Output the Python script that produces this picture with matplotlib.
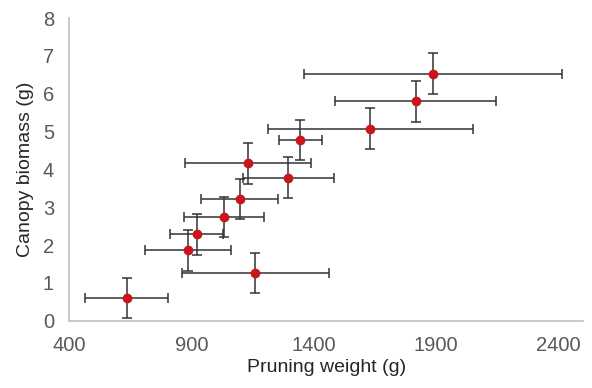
import numpy as np
import matplotlib.pyplot as plt

plt.rcParams['font.family'] = ['Liberation Sans', 'DejaVu Sans']

# pruning weight (g) and canopy biomass (g), with error bars
pruning_weight = [634, 885, 920, 1032, 1097, 1129, 1295, 1160, 1345, 1631, 1816, 1886]
pruning_err    = [169, 174, 107, 163, 157, 257, 187, 301, 88, 418, 330, 527]
canopy_biomass = [0.61, 1.86, 2.28, 2.74, 3.21, 4.16, 3.78, 1.26, 4.78, 5.08, 5.80, 6.53]
biomass_err    = [0.53, 0.54, 0.54, 0.54, 0.53, 0.54, 0.54, 0.53, 0.53, 0.53, 0.54, 0.54]

x_ticks = [400, 900, 1400, 1900, 2400]
y_ticks = [0, 1, 2, 3, 4, 5, 6, 7, 8]

fig = plt.figure(figsize=(5.92, 3.88), dpi=100)
ax = fig.add_axes([0.117, 0.1735, 0.868, 0.78])

ax.errorbar(pruning_weight, canopy_biomass, xerr=pruning_err, yerr=biomass_err,
            fmt='o', color='#C8161D', markersize=6, ecolor='#333333',
            elinewidth=1.1, capsize=3.5, capthick=1.1, zorder=3)

ax.set_xlim(400, 2500)
ax.set_ylim(0, 8)
ax.set_xticks(x_ticks)
ax.set_yticks(y_ticks)

for side in ['top', 'right']:
    ax.spines[side].set_visible(False)
for side in ['left', 'bottom']:
    ax.spines[side].set_color('#BFBFBF')
    ax.spines[side].set_linewidth(1.2)

ax.tick_params(length=0, labelsize=14.5, labelcolor='#595959', pad=11)
ax.set_xlabel("Pruning weight (g)", fontsize=14, color='#262626', labelpad=3)
ax.set_ylabel("Canopy biomass (g)", fontsize=14, color='#262626', labelpad=6)

fig.savefig("out.png", dpi=100)
